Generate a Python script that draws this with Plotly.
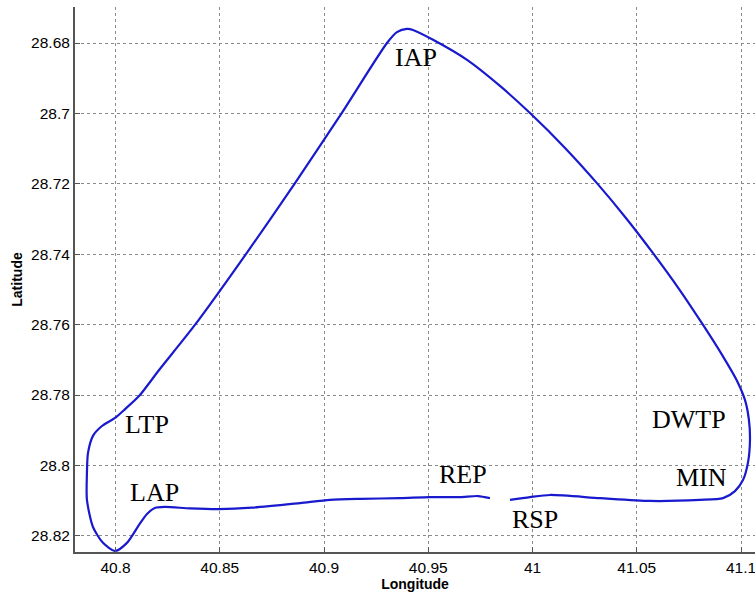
import plotly.graph_objects as go

# Route trace (longitude, latitude), from REP end going west, around loop, ending at RSP
lon = [40.9796, 40.9739, 40.9652, 40.9508, 40.9364, 40.9173, 40.9029, 40.8885, 40.8655, 40.8496,
       40.8357, 40.8237, 40.8189, 40.8151, 40.8113, 40.8055, 40.7998, 40.7940, 40.7892, 40.7863,
       40.7863, 40.7868, 40.7892, 40.7935, 40.7998, 40.8046, 40.8113, 40.8209, 40.8381, 40.8629,
       40.8861, 40.9085, 40.9302, 40.9350, 40.9398, 40.9427, 40.9523, 40.9686, 40.9844, 40.9988,
       41.0156, 41.0309, 41.0448, 41.0578, 41.0703, 41.0818, 41.0909, 41.0981, 41.1019, 41.1038,
       41.1043, 41.1034, 41.1010, 41.0971, 41.0914, 41.0803, 41.0563, 41.0324, 41.0084, 40.9988,
       40.9892]
lat = [28.8093, 28.8087, 28.8090, 28.8090, 28.8093, 28.8095, 28.8098, 28.8107, 28.8120, 28.8124,
       28.8122, 28.8118, 28.8121, 28.8138, 28.8169, 28.8220, 28.8243, 28.8220, 28.8175, 28.8098,
       28.8022, 28.7965, 28.7916, 28.7888, 28.7865, 28.7840, 28.7803, 28.7729, 28.7601, 28.7397,
       28.7198, 28.6999, 28.6800, 28.6769, 28.6760, 28.6763, 28.6791, 28.6848, 28.6922, 28.6999,
       28.7098, 28.7198, 28.7297, 28.7397, 28.7499, 28.7601, 28.7686, 28.7760, 28.7814, 28.7871,
       28.7928, 28.7990, 28.8041, 28.8073, 28.8093, 28.8098, 28.8101, 28.8093, 28.8084, 28.8090,
       28.8098]

# Point labels
label_text = ["IAP", "LTP", "LAP", "REP", "RSP", "DWTP", "MIN"]
label_lon = [40.9441, 40.8151, 40.8189, 40.9667, 41.0010, 41.0751, 41.0811]
label_lat = [28.6841, 28.7885, 28.8078, 28.8027, 28.8154, 28.7869, 28.8033]

x_ticks = [40.8, 40.85, 40.9, 40.95, 41.0, 41.05, 41.1]
x_ticktext = ["40.8", "40.85", "40.9", "40.95", "41", "41.05", "41.1"]
y_ticks = [28.68, 28.70, 28.72, 28.74, 28.76, 28.78, 28.80, 28.82]
y_ticktext = ["28.68", "28.7", "28.72", "28.74", "28.76", "28.78", "28.8", "28.82"]

fig = go.Figure()
fig.add_trace(go.Scatter(
    x=lon, y=lat, mode="lines",
    line=dict(color="rgb(25,25,205)", width=2.2, shape="spline", smoothing=0.7),
    showlegend=False, hoverinfo="skip"))

for t, xx, yy in zip(label_text, label_lon, label_lat):
    fig.add_annotation(x=xx, y=yy, text=t, showarrow=False,
                       xanchor="center", yanchor="middle",
                       font=dict(family="Liberation Serif", size=26, color="black"))

axis_common = dict(
    showgrid=True, gridcolor="#8a8a8a", griddash="dot", gridwidth=1,
    zeroline=False, showline=True, linecolor="#555555", linewidth=2,
    ticks="inside", ticklen=5, tickcolor="#555555", tickwidth=1,
    tickfont=dict(family="Liberation Sans", size=15.5, color="black"),
    ticklabeloverflow="allow", mirror=False,
)

title_font = dict(family="Liberation Sans", size=14, color="black", weight="bold")

fig.update_xaxes(range=[40.78058, 41.10671], tickvals=x_ticks, ticktext=x_ticktext,
                 title=dict(text="Longitude", font=title_font, standoff=5),
                 **axis_common)
fig.update_yaxes(range=[28.8246, 28.66977], tickvals=y_ticks, ticktext=y_ticktext,
                 title=dict(text="Latitude", font=title_font, standoff=5),
                 **axis_common)

fig.update_layout(
    width=755, height=597,
    margin=dict(l=75, r=0, t=7, b=45),
    paper_bgcolor="white", plot_bgcolor="white",
)

fig.write_html("out.html")
